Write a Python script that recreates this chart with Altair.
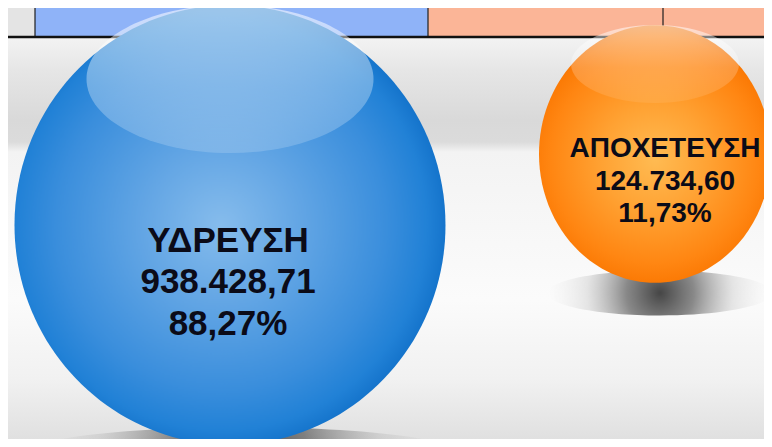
import altair as alt
import pandas as pd

# ---------------- data ----------------
categories = ["ΥΔΡΕΥΣΗ", "ΑΠΟΧΕΤΕΥΣΗ"]
amounts = [938428.71, 124734.60]
amount_labels = ["938.428,71", "124.734,60"]
percent_labels = ["88,27%", "11,73%"]

df = pd.DataFrame({
    "category": categories,
    "amount": amounts,
    "amount_label": amount_labels,
    "percent_label": percent_labels,
})

# ---------------- style ----------------
W, H = 756, 431
FONT = "Liberation Sans"
TEXT_COLOR = "#0b0b18"


def ellipse_path(ry):
    k = 0.5523
    return (f"M 1 0 C 1 {k*ry:.4f} {k:.4f} {ry:.4f} 0 {ry:.4f} "
            f"C {-k:.4f} {ry:.4f} -1 {k*ry:.4f} -1 0 "
            f"C -1 {-k*ry:.4f} {-k:.4f} {-ry:.4f} 0 {-ry:.4f} "
            f"C {k:.4f} {-ry:.4f} 1 {-k*ry:.4f} 1 0 Z")


def stops(pairs):
    return [alt.GradientStop(offset=o, color=c) for o, c in pairs]


def radial(pairs, cx=0.5, cy=0.5, r=0.5):
    return alt.RadialGradient(gradient="radial", stops=stops(pairs),
                              x1=cx, y1=cy, r1=0, x2=cx, y2=cy, r2=r)


def linear(pairs):
    return alt.LinearGradient(gradient="linear", stops=stops(pairs),
                              x1=0, y1=0, x2=0, y2=1)


STYLE = {
    "ΥΔΡΕΥΣΗ": dict(
        aspect=1.02,
        fill=radial([(0, "#86bcec"), (0.35, "#62a5e4"), (0.72, "#3a8edc"),
                     (0.9, "#2181d6"), (1, "#1271c9")], cx=0.48, cy=0.5, r=0.52),
        hl_aspect=0.516, hl_dy=-146, hl_dx=0,
        hl_fill=linear([(0, "rgba(255,255,255,0.58)"), (0.55, "rgba(255,255,255,0.33)"),
                        (1, "rgba(255,255,255,0.16)")]),
        sh_aspect=0.12, sh_dy=228, sh_dx=12,
        font=35, text_dx=-2, text_dy=[27, 68, 110],
    ),
    "ΑΠΟΧΕΤΕΥΣΗ": dict(
        aspect=1.11,
        fill=radial([(0, "#ffbb52"), (0.4, "#ffa233"), (0.78, "#ff8612"),
                     (0.92, "#fb7a05"), (1, "#ee6e00")], cx=0.5, cy=0.52, r=0.52),
        hl_aspect=0.464, hl_dy=-90, hl_dx=0,
        hl_fill=linear([(0, "rgba(255,255,255,0.55)"), (0.55, "rgba(255,255,255,0.22)"),
                        (1, "rgba(255,255,255,0.08)")]),
        sh_aspect=0.2, sh_dy=139, sh_dx=5,
        font=28, text_dx=10, text_dy=[3, 36, 68],
    ),
}

dom = [min(amounts), max(amounts)]

x_enc = alt.X("category:N", axis=None,
              scale=alt.Scale(type="point", domain=categories, range=[222, 647], padding=0))
y_enc = alt.Y("category:N", axis=None,
              scale=alt.Scale(type="point", domain=categories, range=[217, 146], padding=0))


def size_enc(rng):
    return alt.Size("amount:Q", legend=None, scale=alt.Scale(domain=dom, range=rng))


one = alt.Data(values=[{}])
layers = []

# background
bg = linear([(0, "#f3f3f3"), (0.067, "#f3f3f3"), (0.144, "#e6e6e6"), (0.26, "#d9d9d9"),
             (0.311, "#dbdbdb"), (0.334, "#f3f3f3"), (0.677, "#fbfbfb"),
             (0.863, "#f1f1f1"), (1, "#e0e0e0")])
layers.append(alt.Chart(one).mark_rect(fill=bg).encode(
    x=alt.value(0), x2=alt.value(W), y=alt.value(0), y2=alt.value(H)))

# top strip (table fragment)
for x0, x1, col in [(0, 27, "#e4e4e4"), (27, 420, "#8fb3f8"), (420, W, "#fbb597")]:
    layers.append(alt.Chart(one).mark_rect(fill=col).encode(
        x=alt.value(x0), x2=alt.value(x1), y=alt.value(0), y2=alt.value(29)))
for xv in [27, 250, 420, 655]:
    layers.append(alt.Chart(one).mark_rule(color="#1e1e1e", strokeWidth=1.2).encode(
        x=alt.value(xv), y=alt.value(0), y2=alt.value(29)))
layers.append(alt.Chart(one).mark_rule(color="#111111", strokeWidth=2.5).encode(
    x=alt.value(0), x2=alt.value(W), y=alt.value(29)))

base = alt.Chart(df)

# shadows
for cat in categories:
    s = STYLE[cat]
    layers.append(base.transform_filter(alt.datum.category == cat).mark_point(
        shape=ellipse_path(s["sh_aspect"]), filled=True, opacity=1,
        fill=radial([(0, "rgba(50,50,50,0.9)"), (0.3, "rgba(75,75,75,0.65)"),
                     (0.65, "rgba(140,140,140,0.2)"), (1, "rgba(210,210,210,0)")]),
        xOffset=s["sh_dx"], yOffset=s["sh_dy"]).encode(
        x=x_enc, y=y_enc, size=size_enc([225 ** 2, 430 ** 2])))

# balls
for cat in categories:
    s = STYLE[cat]
    layers.append(base.transform_filter(alt.datum.category == cat).mark_point(
        shape=ellipse_path(s["aspect"]), filled=True, opacity=1, fill=s["fill"]).encode(
        x=x_enc, y=y_enc, size=size_enc([232 ** 2, 431 ** 2])))

# glossy highlights
for cat in categories:
    s = STYLE[cat]
    layers.append(base.transform_filter(alt.datum.category == cat).mark_point(
        shape=ellipse_path(s["hl_aspect"]), filled=True, opacity=1, fill=s["hl_fill"],
        xOffset=s["hl_dx"], yOffset=s["hl_dy"]).encode(
        x=x_enc, y=y_enc, size=size_enc([168 ** 2, 287 ** 2])))

# labels
for cat in categories:
    s = STYLE[cat]
    for field, dy in zip(["category", "amount_label", "percent_label"], s["text_dy"]):
        layers.append(base.transform_filter(alt.datum.category == cat).mark_text(
            font=FONT, fontWeight="bold", fontSize=s["font"], color=TEXT_COLOR,
            align="center", baseline="alphabetic", dx=s["text_dx"], dy=dy).encode(
            x=x_enc, y=y_enc, text=alt.Text(f"{field}:N")))

chart = alt.layer(*layers).resolve_scale(size="independent").properties(
    width=W, height=H, padding=0, autosize="none", background="white"
).configure_view(strokeWidth=0)

chart.save("out.html", embed_options={"renderer": "svg", "actions": False})
